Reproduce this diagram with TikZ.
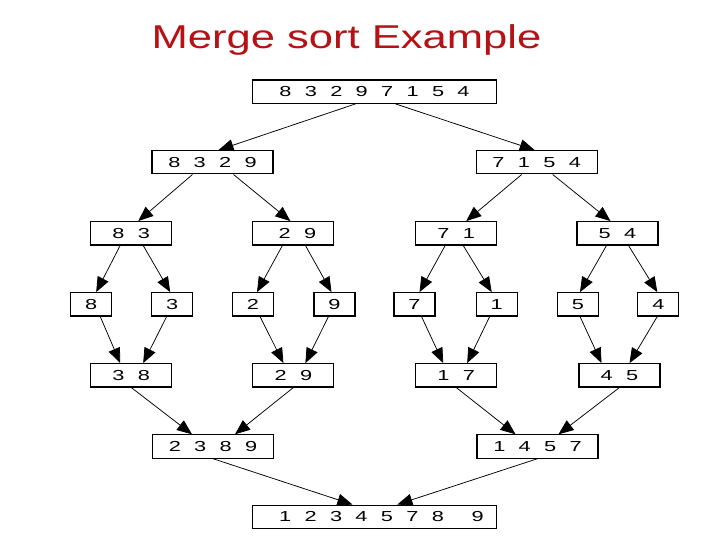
\documentclass[tikz,border=0pt]{standalone}
\usepackage{fontspec}
\usepackage{graphicx}
\usetikzlibrary{arrows.meta}
\newfontfamily\dfont{Liberation Sans}
\definecolor{titlered}{RGB}{182,18,22}
\newcommand\dgap{\hspace{8.9pt}}
\newcommand\dg[1]{\scalebox{1.5}[1]{\fontsize{14.5}{15}\selectfont #1}}
\begin{document}
\begin{tikzpicture}[x=1pt,y=-1pt,
  box/.style={draw=black,line width=1.1pt,rectangle,inner sep=0pt,minimum height=23.3pt,font=\dfont},
  wide/.style={box,minimum width=244pt},
  four/.style={box,minimum width=121pt},
  two/.style={box,minimum width=81pt},
  one/.style={box,minimum width=41pt},
  arr/.style={line width=0.75pt,-{Triangle[length=15pt,width=12pt]}}]
\useasboundingbox[fill=white] (0,0) rectangle (720,540);
\node[font=\dfont,text=titlered,anchor=base] (title) at (346.5,49) {\scalebox{1.32}[1]{\fontsize{33}{35}\selectfont Merge sort Example}};
% level 0
\node[wide] (top) at (374.5,91.7) {\dg{8\dgap 3\dgap 2\dgap 9\dgap 7\dgap 1\dgap 5\dgap 4}};
% level 1
\node[four] (a) at (212.5,162.3) {\dg{8\dgap 3\dgap 2\dgap 9}};
\node[four] (b) at (536.7,162.3) {\dg{7\dgap 1\dgap 5\dgap 4}};
% level 2
\node[two] (aa) at (131.2,233.3) {\dg{8\dgap 3}};
\node[two] (ab) at (293.4,233.3) {\hspace{8pt}\dg{2\dgap 9}};
\node[two] (ba) at (456.2,233.3) {\dg{7\dgap 1}\hspace{6pt}};
\node[two] (bb) at (617.5,233.3) {\dg{5\dgap 4}};
% level 3 (leaves)
\node[one] (l1) at (91.2,304.3) {\dg{8}};
\node[one] (l2) at (172.2,304.3) {\dg{3}};
\node[one] (l3) at (253,304.3) {\dg{2}};
\node[one] (l4) at (334.5,304.3) {\dg{9}};
\node[one] (l5) at (414.5,304.3) {\dg{7}};
\node[one] (l6) at (496.7,304.3) {\dg{1}};
\node[one] (l7) at (578,304.3) {\dg{5}};
\node[one] (l8) at (658.3,304.3) {\dg{4}};
% level 4
\node[two] (ma) at (131.2,375.3) {\dg{3\dgap 8}};
\node[two] (mb) at (293.4,375.3) {\dg{2\dgap 9}};
\node[two] (mc) at (456.2,375.3) {\dg{1\dgap 7}};
\node[two] (md) at (619.5,375.3) {\dg{4\dgap 5}};
% level 5
\node[four] (na) at (213,446.5) {\dg{2\dgap 3\dgap 8\dgap 9}};
\node[four] (nb) at (537.5,446.5) {\dg{1\dgap 4\dgap 5\dgap 7}};
% level 6
\node[wide] (bot) at (374.4,516.7) {\hspace{14pt}\dg{1\dgap 2\dgap 3\dgap 4\dgap 5\dgap 7\dgap 8\dgap\hspace{5.5pt} 9}};
% split arrows
\draw[arr] ([xshift=-19pt]top.south) -- ([xshift=6pt]a.north);
\draw[arr] ([xshift=21pt]top.south) -- ([xshift=-2pt]b.north);
\draw[arr] ([xshift=-20pt]a.south) -- ([xshift=7pt]aa.north);
\draw[arr] ([xshift=21pt]a.south) -- ([xshift=-3pt]ab.north);
\draw[arr] ([xshift=-15pt]b.south) -- ([xshift=10pt]ba.north);
\draw[arr] ([xshift=16pt]b.south) -- ([xshift=-7pt]bb.north);
\draw[arr] ([xshift=-11pt]aa.south) -- ([xshift=5pt]l1.north);
\draw[arr] ([xshift=12pt]aa.south) -- ([xshift=-2pt]l2.north);
\draw[arr] ([xshift=-11pt]ab.south) -- ([xshift=4pt]l3.north);
\draw[arr] ([xshift=12pt]ab.south) -- ([xshift=-3pt]l4.north);
\draw[arr] ([xshift=-11pt]ba.south) -- ([xshift=5pt]l5.north);
\draw[arr] ([xshift=7pt]ba.south) -- ([xshift=-5pt]l6.north);
\draw[arr] ([xshift=-11pt]bb.south) -- ([xshift=2pt]l7.north);
\draw[arr] ([xshift=11pt]bb.south) -- ([xshift=-1pt]l8.north);
% merge arrows
\draw[arr] ([xshift=9pt]l1.south) -- ([xshift=-11pt]ma.north);
\draw[arr] ([xshift=-5.5pt]l2.south) -- ([xshift=12pt]ma.north);
\draw[arr] ([xshift=7pt]l3.south) -- ([xshift=-10pt]mb.north);
\draw[arr] ([xshift=-6pt]l4.south) -- ([xshift=12pt]mb.north);
\draw[arr] ([xshift=7pt]l5.south) -- ([xshift=-13pt]mc.north);
\draw[arr] ([xshift=-7pt]l6.south) -- ([xshift=11pt]mc.north);
\draw[arr] ([xshift=2pt]l7.south) -- ([xshift=-18pt]md.north);
\draw[arr] ([xshift=-1pt]l8.south) -- ([xshift=10pt]md.north);
\draw[arr] (ma.south) -- ([xshift=-21pt]na.north);
\draw[arr] (mb.south) -- ([xshift=22pt]na.north);
\draw[arr] (mc.south) -- ([xshift=-22pt]nb.north);
\draw[arr] (md.south) -- ([xshift=21pt]nb.north);
\draw[arr] (na.south) -- ([xshift=-22pt]bot.north);
\draw[arr] (nb.south) -- ([xshift=23pt]bot.north);
\end{tikzpicture}
\end{document}
